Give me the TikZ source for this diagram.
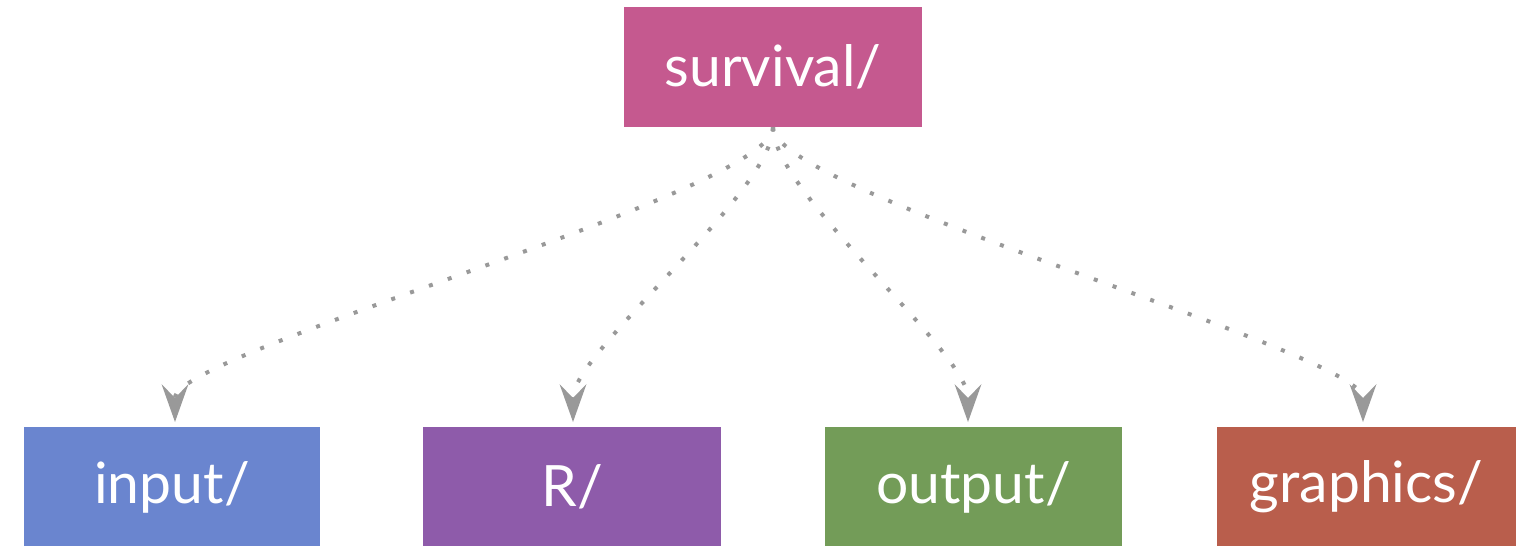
\documentclass[tikz,border=0pt]{standalone}
\usepackage{fontspec}
\setmainfont{Lato}
\usetikzlibrary{arrows.meta}
\definecolor{topcol}{HTML}{C5598F}
\definecolor{incol}{HTML}{6A85CF}
\definecolor{rcol}{HTML}{8E5BAA}
\definecolor{outcol}{HTML}{739C58}
\definecolor{gfxcol}{HTML}{B95E4C}
\definecolor{conncol}{HTML}{999999}
\begin{document}
\begin{tikzpicture}[x=1pt,y=-1pt,
  folder/.style={rectangle, inner sep=0pt, text=white,
    font=\fontsize{57}{66}\selectfont},
  conn/.style={draw=conncol, line width=4pt, dash pattern=on 4pt off 16pt,
    shorten >=5pt,
    -{Stealth[length=38pt, width=27pt, inset=14pt, fill=conncol, line width=0pt, sep=0pt]}}]
\useasboundingbox (0,0) rectangle (1531,546);
% folder boxes
\node[folder, fill=topcol, minimum width=298pt, minimum height=120pt] (top) at (773,67) {survival/};
\node[folder, fill=incol, minimum width=296pt, minimum height=120pt] (input) at (172,487) {input/};
\node[folder, fill=rcol, minimum width=298pt, minimum height=120pt] (r) at (572,487) {R/};
\node[folder, fill=outcol, minimum width=297pt, minimum height=120pt] (output) at (973.5,487) {output/};
\node[folder, fill=gfxcol, minimum width=299pt, minimum height=120pt] (gfx) at (1366.5,487) {graphics/};
% end points of the connectors, just above each box
\coordinate (inA) at (175,427);
\coordinate (rA) at (573,427);
\coordinate (outA) at (968,427);
\coordinate (gfxA) at (1363,427);
% dotted connectors
\draw[conn] (top.south) .. controls +(0,65) and +(0,-75) .. (inA);
\draw[conn] (top.south) .. controls +(0,65) and +(0,-75) .. (rA);
\draw[conn] (top.south) .. controls +(0,65) and +(0,-75) .. (outA);
\draw[conn] (top.south) .. controls +(0,65) and +(0,-75) .. (gfxA);
\end{tikzpicture}
\end{document}
